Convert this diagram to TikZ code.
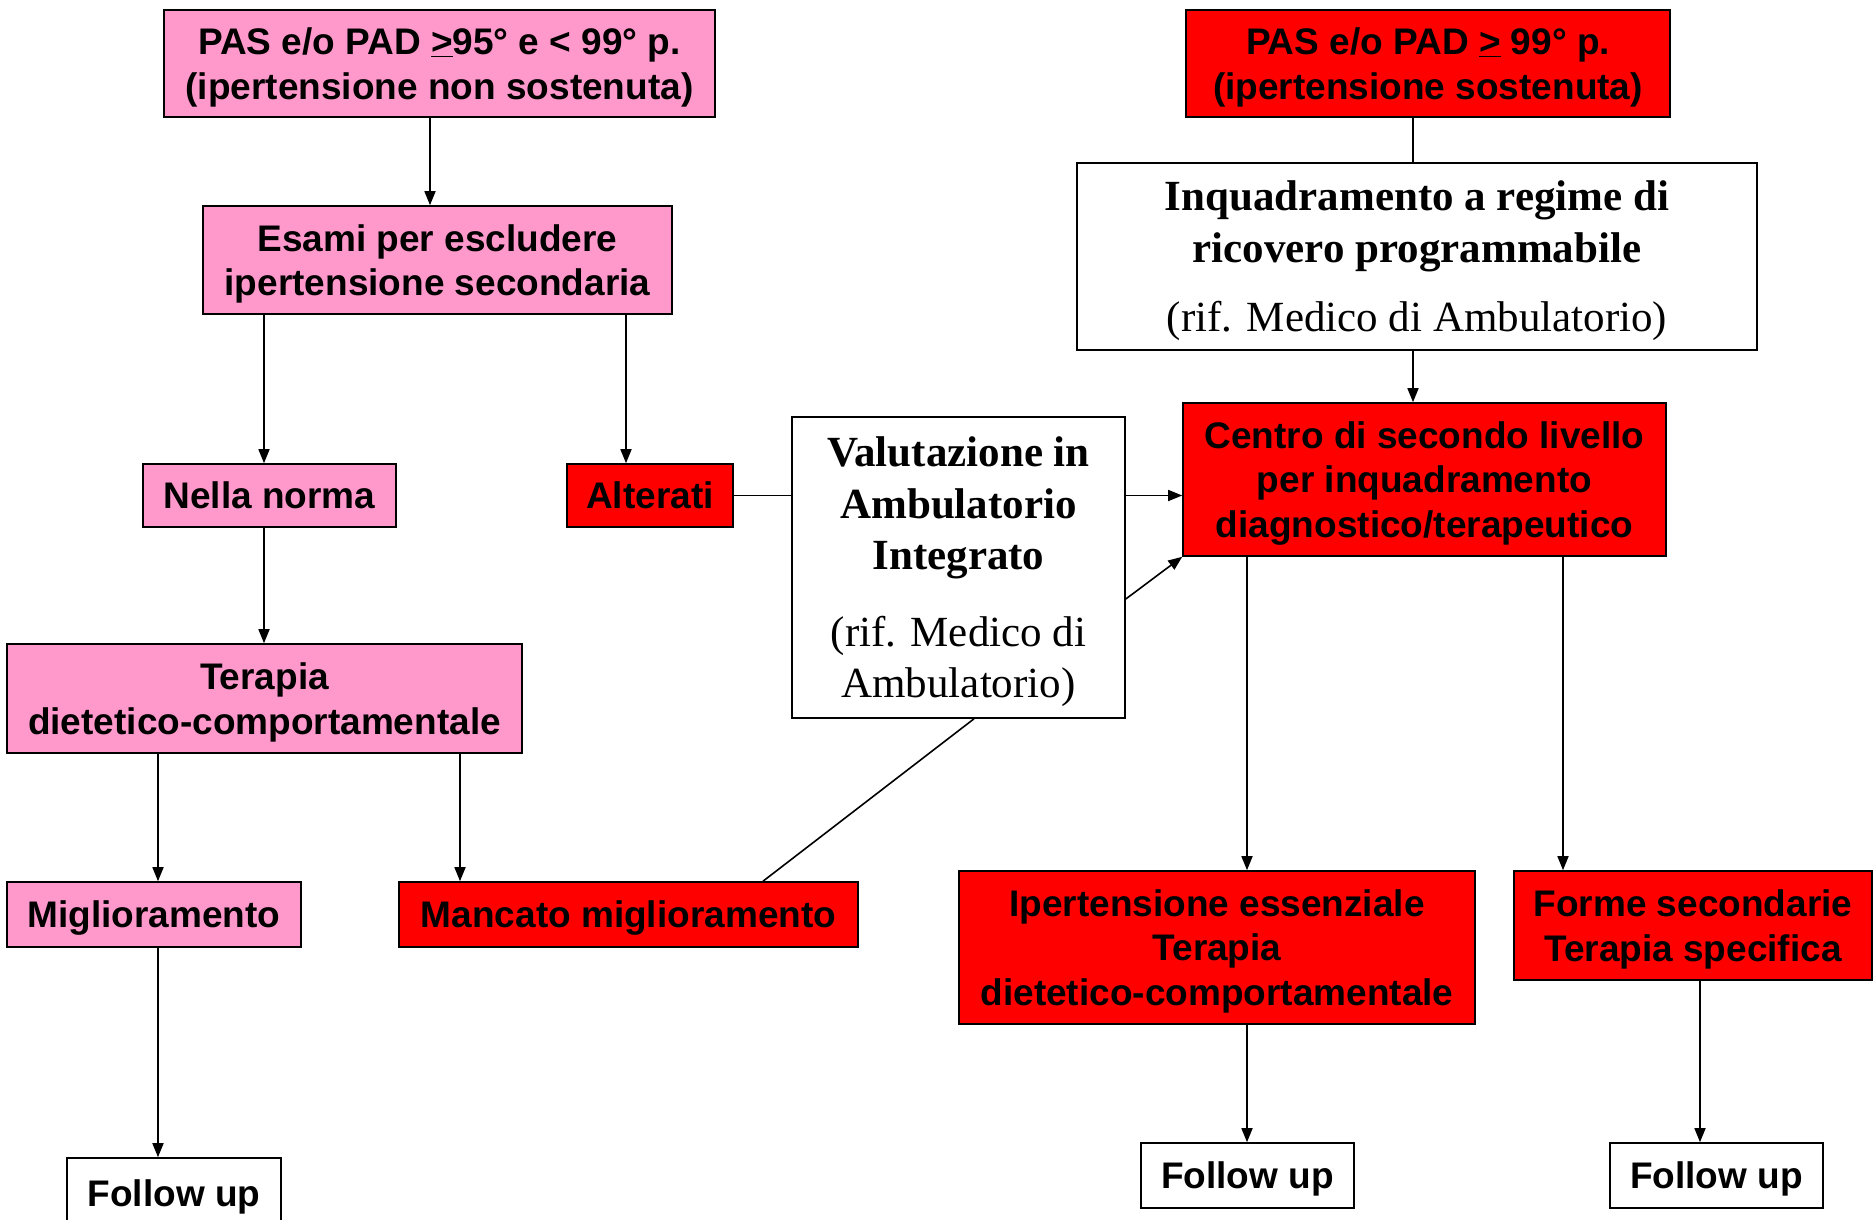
\documentclass[tikz,border=0pt]{standalone}
\usepackage{fontspec}
\setmainfont{Liberation Sans}
\newfontfamily\timesfont{Liberation Serif}
\usetikzlibrary{arrows.meta}
\definecolor{rosa}{HTML}{FF99CC}

\begin{document}
\begin{tikzpicture}[x=1pt, y=-1pt, line width=1.6pt,
   >={Triangle[length=14pt, width=11pt]},
   box/.style={draw, rectangle, inner sep=0pt, align=center, text depth=0pt,
               font=\fontsize{37}{44.5}\selectfont\bfseries},
   pinkbox/.style={box, fill=rosa},
   redbox/.style={box, fill=red},
   whitebox/.style={box, fill=white},
   timesbox/.style={box, fill=white, font=\timesfont\fontsize{43}{51.5}\selectfont}]

\clip (0,0) rectangle (1874,1220);

% ramo sinistro
\node[pinkbox, minimum width=551, minimum height=107] (pas95) at (439.5,63.5)
    {PAS e/o PAD \underline{>}95° e < 99° p.\\(ipertensione non sostenuta)};
\node[pinkbox, minimum width=469, minimum height=108] (esami) at (437.5,260)
    {Esami per escludere\\ipertensione secondaria};
\node[pinkbox, minimum width=253, minimum height=63] (norma) at (269.5,495.5) {Nella norma};
\node[redbox, minimum width=166, minimum height=63] (alterati) at (650,495.5) {Alterati};
\node[pinkbox, minimum width=515, minimum height=109] (terapia) at (264.5,698.5)
    {Terapia\\dietetico-comportamentale};
\node[pinkbox, minimum width=294, minimum height=65] (migl) at (154,914.5) {Miglioramento};
\node[redbox, minimum width=459, minimum height=65] (mancato) at (628.5,914.5) {Mancato miglioramento};
\node[whitebox, minimum width=214, minimum height=70] (fu1) at (174,1193) {Follow up};

% ambulatorio integrato
\node[timesbox, minimum width=333, minimum height=301] (valut) at (958.5,567.5)
    {\textbf{Valutazione in}\\ \textbf{Ambulatorio}\\ \textbf{Integrato}\\[25pt] (rif. Medico di\\ Ambulatorio)};

% ramo destro
\node[redbox, minimum width=484, minimum height=107] (pas99) at (1428,63.5)
    {PAS e/o PAD \underline{>} 99° p.\\(ipertensione sostenuta)};
\node[timesbox, minimum width=680, minimum height=187] (inq) at (1417,256.5)
    {\textbf{Inquadramento a regime di}\\ \textbf{ricovero programmabile}\\[18pt] (rif. Medico di Ambulatorio)};
\node[redbox, minimum width=483, minimum height=153] (centro) at (1424.5,479.5)
    {Centro di secondo livello\\per inquadramento\\diagnostico/terapeutico};
\node[redbox, minimum width=516, minimum height=153] (ipess) at (1217,947.5)
    {Ipertensione essenziale\\Terapia\\dietetico-comportamentale};
\node[redbox, minimum width=358, minimum height=109] (forme) at (1693,925.5)
    {Forme secondarie\\Terapia specifica};
\node[whitebox, minimum width=213, minimum height=65] (fu2) at (1247.5,1175.5) {Follow up};
\node[whitebox, minimum width=213, minimum height=65] (fu3) at (1716.5,1175.5) {Follow up};

% collegamenti
\draw[->] (pas95.south -| 430,0) -- (esami.north -| 430,0);
\draw[->] (esami.south -| 264,0) -- (norma.north -| 264,0);
\draw[->] (esami.south -| 626,0) -- (alterati.north -| 626,0);
\draw[->] (norma.south -| 264,0) -- (terapia.north -| 264,0);
\draw[->] (terapia.south -| 158,0) -- (migl.north -| 158,0);
\draw[->] (terapia.south -| 460,0) -- (mancato.north -| 460,0);
\draw[->] (migl.south -| 158,0) -- (fu1.north -| 158,0);
\draw (alterati.east) -- (alterati.east -| valut.west);
\draw[->] (alterati.east -| valut.east) -- (alterati.east -| centro.west);
\draw[->] (valut.east |- 0,599) -- (centro.south west);
\draw (mancato.north -| 763,0) -- (valut.south -| 974,0);
\draw (pas99.south -| 1413,0) -- (inq.north -| 1413,0);
\draw[->] (inq.south -| 1413,0) -- (centro.north -| 1413,0);
\draw[->] (centro.south -| 1247,0) -- (ipess.north -| 1247,0);
\draw[->] (centro.south -| 1563,0) -- (forme.north -| 1563,0);
\draw[->] (ipess.south -| 1247,0) -- (fu2.north -| 1247,0);
\draw[->] (forme.south -| 1700,0) -- (fu3.north -| 1700,0);

\end{tikzpicture}
\end{document}
